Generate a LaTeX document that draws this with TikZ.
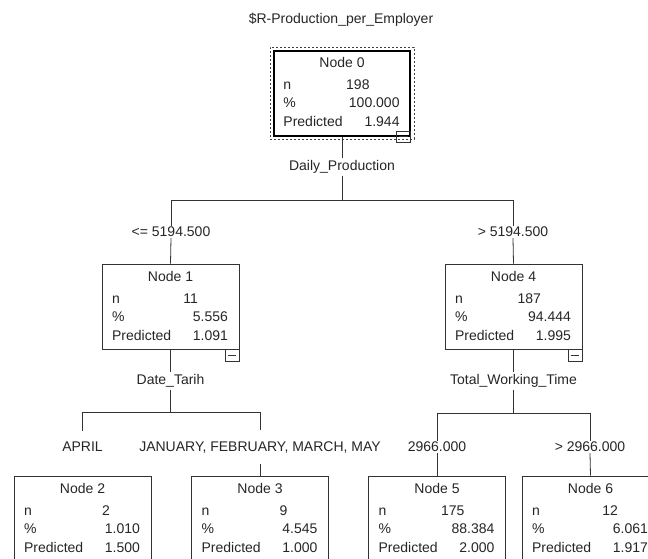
\documentclass[tikz,border=0pt]{standalone}
\usepackage{fontspec}
\setmainfont{Liberation Sans}
\usetikzlibrary{calc}
\newcommand\nodebody[5]{%
  \node[anchor=base] (#1t) at ($(#1.north)+(0,18)$) {#2};
  \node[anchor=base west] (#1a) at ($(#1.north west)+(7,40)$) {n};
  \node[anchor=base east] (#1b) at ($(#1.north east)+(-38,40)$) {#3};
  \node[anchor=base west] (#1c) at ($(#1.north west)+(7,58)$) {\%};
  \node[anchor=base east] (#1d) at ($(#1.north east)+(-8,58)$) {#4};
  \node[anchor=base west] (#1e) at ($(#1.north west)+(7,77)$) {Predicted};
  \node[anchor=base east] (#1f) at ($(#1.north east)+(-8,77)$) {#5};
}
\begin{document}
\begin{tikzpicture}[x=1pt,y=-1pt,
  every node/.style={font=\fontsize{14}{16}\selectfont, text=black!85},
  box/.style={draw=black!80, line width=0.8pt, minimum width=137pt, minimum height=85pt, inner sep=0pt},
  rootbox/.style={draw=black, line width=2.2pt, minimum width=136pt, minimum height=85pt, inner sep=0pt},
  frame/.style={draw=black!75, line width=0.8pt, dash pattern=on 2pt off 2pt, minimum width=144pt, minimum height=92pt, inner sep=0pt},
  minusbox/.style={draw=black!80, line width=0.8pt, minimum width=14pt, minimum height=12pt, inner sep=0pt},
  minusline/.style={draw=black!80, line width=0.8pt},
  conn/.style={draw=black!80, line width=0.8pt},
  lbl/.style={inner xsep=2pt, inner ysep=1pt},
  lblwide/.style={inner xsep=2pt, inner ysep=11pt},
  lblvar/.style={inner xsep=2pt, inner ysep=2pt}]
\clip (0,0) rectangle (648,558);
\fill[white] (0,0) rectangle (648,558);

% title
\node (title) at (341,20) {\$R-Production\_per\_Employer};

% root node
\node[frame] (n0f) at (342,93) {};
\node[rootbox] (n0) at (342,93.5) {};
\nodebody{n0}{Node 0}{198}{100.000}{1.944}
\node[minusbox, anchor=north east, minimum height=11pt] (m0) at ($(n0.east |- n0f.south)+(-0.5,0)$) {};
\draw[minusline] ($(m0.west)+(3,0)$) -- ($(m0.east)+(-3,0)$);

\node[lblvar] (dp) at (342,167) {Daily\_Production};
\coordinate (b0) at (342,200);

\node[lbl] (l1) at (171,232) {<= 5194.500};
\node[lbl] (l4) at (513,232) {> 5194.500};

% level 1
\node[box] (n1) at (170.5,306.5) {};
\nodebody{n1}{Node 1}{11}{5.556}{1.091}
\node[minusbox, anchor=north east] (m1) at (n1.south east) {};
\draw[minusline] ($(m1.west)+(3,0)$) -- ($(m1.east)+(-3,0)$);

\node[box] (n4) at (513.5,306.5) {};
\nodebody{n4}{Node 4}{187}{94.444}{1.995}
\node[minusbox, anchor=north east] (m4) at (n4.south east) {};
\draw[minusline] ($(m4.west)+(3,0)$) -- ($(m4.east)+(-3,0)$);

\node[lblvar] (dt) at (170.5,381) {Date\_Tarih};
\coordinate (b1) at (170.5,412);
\node[lblvar] (tw) at (513.5,381) {Total\_Working\_Time};
\coordinate (b4) at (513.5,413);

\node[lblwide] (la) at (82.5,447) {APRIL};
\node[lblwide] (lb) at (260,447) {JANUARY, FEBRUARY, MARCH, MAY};
\node[lbl] (lc) at (437,447) {2966.000};
\node[lbl] (ld) at (590,447) {> 2966.000};

% level 2
\node[box] (n2) at (82.5,518.5) {};
\nodebody{n2}{Node 2}{2}{1.010}{1.500}
\node[box] (n3) at (260,518.5) {};
\nodebody{n3}{Node 3}{9}{4.545}{1.000}
\node[box] (n5) at (437,518.5) {};
\nodebody{n5}{Node 5}{175}{88.384}{2.000}
\node[box] (n6) at (590.5,518.5) {};
\nodebody{n6}{Node 6}{12}{6.061}{1.917}

% connectors
\draw[conn] (n0.south) -- (dp.north);
\draw[conn] (dp.south) -- (b0);
\draw[conn] (l1.north) |- (b0);
\draw[conn] (l4.north) |- (b0);
\draw[conn] (l1.south) -- (n1.north);
\draw[conn] (l4.south) -- (n4.north);

\draw[conn] (n1.south) -- (dt.north);
\draw[conn] (dt.south) -- (b1);
\draw[conn] (la.north) |- (b1);
\draw[conn] (lb.north) |- (b1);
\draw[conn] (lb.south) -- (n3.north);

\draw[conn] (n4.south) -- (tw.north);
\draw[conn] (tw.south) -- (b4);
\draw[conn] (lc.north) |- (b4);
\draw[conn] (ld.north) |- (b4);
\draw[conn] (lc.south) -- (n5.north);
\draw[conn] (ld.south) -- (n6.north);
\end{tikzpicture}
\end{document}
